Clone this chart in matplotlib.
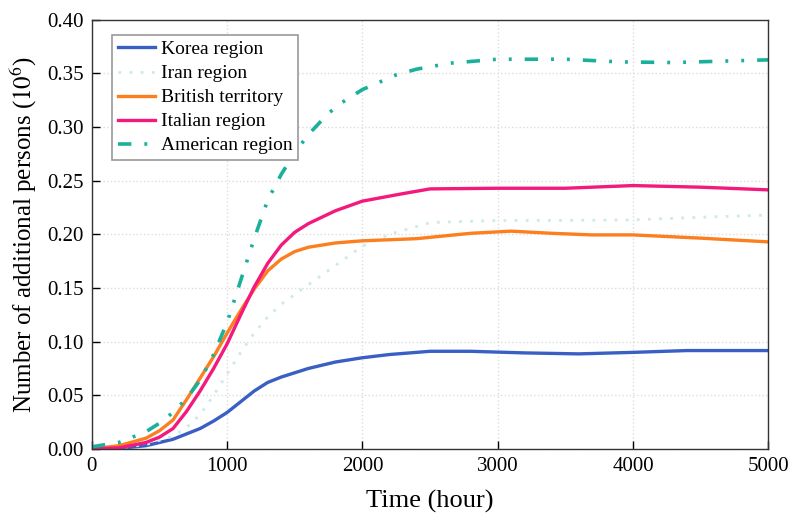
import matplotlib
matplotlib.use("Agg")
import matplotlib.pyplot as plt

plt.rcParams['font.family'] = ['Liberation Serif', 'DejaVu Serif']
plt.rcParams['mathtext.fontset'] = 'stix'

korea_t = [0, 200, 400, 600, 700, 800, 900, 1000, 1100, 1200, 1300, 1400, 1500, 1600, 1800, 2000, 2200, 2500, 2800, 3200, 3600, 4000, 4400, 5000]
korea_v = [0.0, 0.0005, 0.003, 0.009, 0.014, 0.019, 0.026, 0.034, 0.044, 0.054, 0.062, 0.067, 0.071, 0.075, 0.081, 0.085, 0.088, 0.091, 0.091, 0.0895, 0.0886, 0.090, 0.0917, 0.0917]

iran_t = [0, 200, 400, 600, 700, 800, 900, 1000, 1100, 1200, 1300, 1400, 1600, 1800, 2000, 2200, 2500, 3000, 3500, 4000, 4500, 5000]
iran_v = [0.0, 0.001, 0.004, 0.012, 0.020, 0.032, 0.050, 0.070, 0.090, 0.108, 0.123, 0.135, 0.153, 0.171, 0.189, 0.200, 0.211, 0.213, 0.213, 0.2135, 0.216, 0.218]

british_t = [0, 200, 400, 500, 600, 700, 800, 900, 1000, 1100, 1200, 1300, 1400, 1500, 1600, 1800, 2000, 2400, 2800, 3100, 3400, 3700, 4000, 4500, 5000]
british_v = [0.0, 0.003, 0.010, 0.017, 0.027, 0.046, 0.066, 0.086, 0.108, 0.129, 0.149, 0.166, 0.177, 0.184, 0.188, 0.192, 0.194, 0.196, 0.201, 0.203, 0.201, 0.1995, 0.1995, 0.1965, 0.193]

italian_t = [0, 200, 400, 500, 600, 700, 800, 900, 1000, 1100, 1200, 1300, 1400, 1500, 1600, 1800, 2000, 2300, 2500, 3000, 3500, 4000, 4500, 5000]
italian_v = [0.0, 0.001, 0.006, 0.011, 0.019, 0.035, 0.054, 0.075, 0.098, 0.125, 0.151, 0.173, 0.190, 0.202, 0.210, 0.222, 0.231, 0.238, 0.2424, 0.243, 0.243, 0.2455, 0.244, 0.2415]

american_t = [0, 200, 400, 500, 600, 700, 800, 900, 1000, 1100, 1200, 1300, 1400, 1500, 1600, 1750, 1850, 2000, 2250, 2400, 2650, 3000, 3500, 3900, 4300, 4750, 5000]
american_v = [0.002, 0.006, 0.016, 0.024, 0.034, 0.047, 0.064, 0.088, 0.118, 0.157, 0.196, 0.232, 0.256, 0.276, 0.293, 0.313, 0.323, 0.335, 0.3487, 0.354, 0.3596, 0.3633, 0.3633, 0.3608, 0.3602, 0.3618, 0.3627]

labels = ["Korea region", "Iran region", "British territory", "Italian region", "American region"]
xticks = [0, 1000, 2000, 3000, 4000, 5000]
yticks = [0.00, 0.05, 0.10, 0.15, 0.20, 0.25, 0.30, 0.35, 0.40]

fig = plt.figure(figsize=(7.92, 5.22), dpi=100)
ax = fig.add_axes([0.116, 0.140, 0.854, 0.822])

ax.plot(korea_t, korea_v, color='#3a5fc4', lw=2.4, label=labels[0])
ax.plot(iran_t, iran_v, color='#cdebe3', lw=2.0, linestyle=(0, (1, 3)), label=labels[1])
ax.plot(british_t, british_v, color='#fb7f1f', lw=2.4, label=labels[2])
ax.plot(italian_t, italian_v, color='#f4197c', lw=2.4, label=labels[3])
ax.plot(american_t, american_v, color='#1ab09a', lw=2.6,
        linestyle=(0, (3.7, 3.6, 0.8, 3.6, 0.8, 3.6)), label=labels[4])

ax.set_xlim(0, 5000)
ax.set_ylim(0, 0.40)
ax.set_xticks(xticks)
ax.set_yticks(yticks)
ax.set_yticklabels([f"{v:.2f}" for v in yticks])
ax.tick_params(direction='in', length=6, width=1, labelsize=15, pad=6)
ax.grid(True, color='#dddddd', linestyle=':', linewidth=1)
ax.set_axisbelow(True)
for s in ax.spines.values():
    s.set_color('#333333')
    s.set_linewidth(1.0)

ax.set_xlabel("Time (hour)", fontsize=19, labelpad=10)
ax.set_ylabel(r"Number of additional persons ($10^6$)", fontsize=18, labelpad=6)

leg = ax.legend(loc='upper left', bbox_to_anchor=(0.03, 0.965), borderaxespad=0,
                fontsize=14, frameon=True, fancybox=False, framealpha=1,
                edgecolor='#999999', handlelength=1.9, labelspacing=0.33,
                handletextpad=0.3, borderpad=0.3)
leg.get_frame().set_linewidth(1.2)

fig.savefig("out.png", dpi=100)
